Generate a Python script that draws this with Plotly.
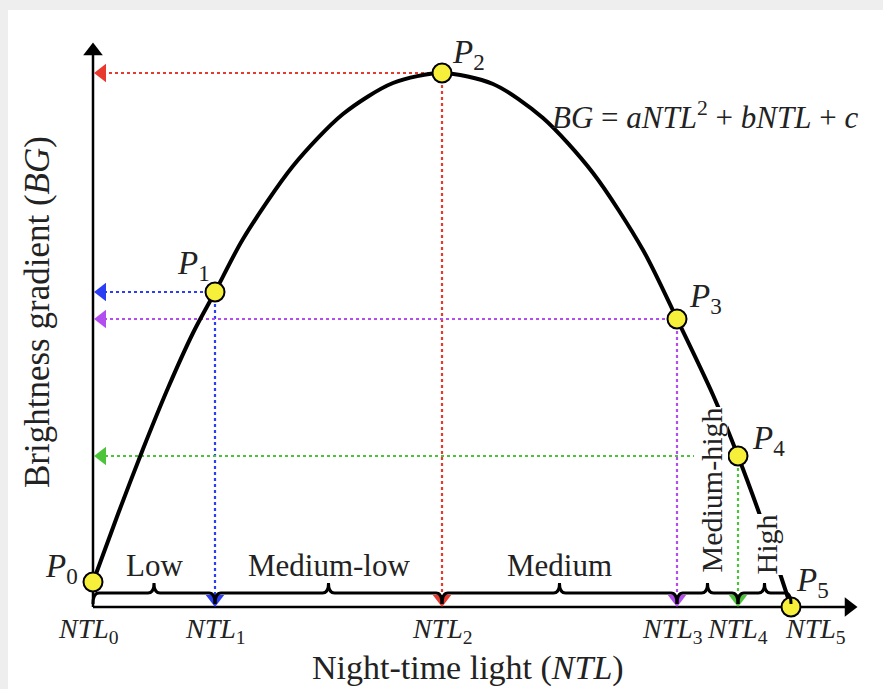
import plotly.graph_objects as go

# ---------------- data (chart units: NTL on x, BG on y) ----------------
point_names = ["P0", "P1", "P2", "P3", "P4", "P5"]
ntl_pts = [0, 122, 349, 584, 645, 698]
bg_pts = [25, 315, 534, 288, 151, 0]

curve_ntl = [0, 25, 50, 75, 100, 122, 150, 200, 250, 300, 349,
             400, 450, 500, 550, 584, 620, 645, 675, 698]
curve_bg = [25, 93, 158, 219, 274, 315, 368, 441, 493, 524, 534,
            523, 489, 434, 357, 288, 212, 151, 69, 0]

level_names = ["Low", "Medium-low", "Medium", "Medium-high", "High"]
tick_labels = ["NTL0", "NTL1", "NTL2", "NTL3", "NTL4", "NTL5"]

# projection colours for P1..P4
proj_colors = ["#2b3df5", "#e8392f", "#b24ef0", "#4cc43a"]

SERIF = "Liberation Serif"
TXT = "#222222"

fig = go.Figure()

# background card
fig.add_shape(type="rect", xref="paper", yref="paper", x0=8 / 883, x1=1, y0=0,
              y1=1 - 10 / 689, fillcolor="white", line_width=0, layer="below")

X_MAX = 764
Y_MAX = 564

# axes
fig.add_trace(go.Scatter(x=[0, X_MAX - 8], y=[0, 0], mode="lines",
                         line=dict(color="black", width=2.5), hoverinfo="skip"))
fig.add_trace(go.Scatter(x=[0, 0], y=[0, Y_MAX - 8], mode="lines",
                         line=dict(color="black", width=2.5), hoverinfo="skip"))
fig.add_trace(go.Scatter(x=[X_MAX - 8], y=[0], mode="markers",
                         marker=dict(symbol="triangle-right", size=17, color="black"),
                         hoverinfo="skip"))
fig.add_trace(go.Scatter(x=[0], y=[Y_MAX - 8], mode="markers",
                         marker=dict(symbol="triangle-up", size=17, color="black"),
                         hoverinfo="skip"))

# braces along x axis
brace_base, brace_line, brace_top, r = 3, 14, 24, 6
bounds = list(ntl_pts)
for i in range(5):
    x1, x2 = bounds[i], bounds[i + 1]
    xm = (x1 + x2) / 2
    path = (f"M {x1},{brace_base} Q {x1},{brace_line} {x1 + r},{brace_line} "
            f"L {xm - r},{brace_line} Q {xm},{brace_line} {xm},{brace_top} "
            f"Q {xm},{brace_line} {xm + r},{brace_line} "
            f"L {x2 - r},{brace_line} Q {x2},{brace_line} {x2},{brace_base}")
    fig.add_shape(type="path", path=path, xref="x", yref="y",
                  line=dict(color="black", width=3))

# dotted projections with arrowheads
for k in range(1, 5):
    c = proj_colors[k - 1]
    px, py = ntl_pts[k], bg_pts[k]
    fig.add_trace(go.Scatter(x=[px, 10], y=[py, py], mode="lines",
                             line=dict(color=c, width=2.2, dash="dot"), hoverinfo="skip"))
    fig.add_trace(go.Scatter(x=[px, px], y=[py, 10], mode="lines",
                             line=dict(color=c, width=2.2, dash="dot"), hoverinfo="skip"))
    fig.add_trace(go.Scatter(x=[9], y=[py], mode="markers",
                             marker=dict(symbol="triangle-left", size=16, color=c),
                             hoverinfo="skip"))
    fig.add_trace(go.Scatter(x=[px], y=[8], mode="markers",
                             marker=dict(symbol="triangle-down", size=16, color=c),
                             hoverinfo="skip"))

# category labels
for i, name in enumerate(level_names[:3]):
    xm = (bounds[i] + bounds[i + 1]) / 2
    fig.add_annotation(x=xm, y=42, text=name, showarrow=False,
                       font=dict(family=SERIF, size=31, color=TXT))

# curve
fig.add_trace(go.Scatter(x=curve_ntl, y=curve_bg, mode="lines",
                         line=dict(color="black", width=4, shape="spline", smoothing=0.8),
                         hoverinfo="skip"))

# rotated labels (white background hides the curve)
fig.add_annotation(x=(bounds[3] + bounds[4]) / 2 + 3, y=117, text=level_names[3],
                   showarrow=False, textangle=-90, bgcolor="white", borderpad=0,
                   font=dict(family=SERIF, size=30, color=TXT))
fig.add_annotation(x=(bounds[4] + bounds[5]) / 2 + 1, y=62, text=level_names[4],
                   showarrow=False, textangle=-90, bgcolor="white", borderpad=0,
                   font=dict(family=SERIF, size=30, color=TXT))

# points
fig.add_trace(go.Scatter(x=ntl_pts, y=bg_pts, mode="markers",
                         marker=dict(size=19, color="#f7f03a",
                                     line=dict(color="black", width=2)),
                         hoverinfo="skip"))

# point labels
p_off = [(-32, 14), (-22, 27), (26, 19), (28, 21), (30, 16), (21, 25)]
for i, name in enumerate(point_names):
    txt = f"<i>{name[0]}</i><sub>{name[1:]}</sub>"
    fig.add_annotation(x=ntl_pts[i] + p_off[i][0], y=bg_pts[i] + p_off[i][1], text=txt,
                       showarrow=False, font=dict(family=SERIF, size=33, color=TXT))

# NTL tick labels
t_off = [-5, 0, 0, -5, -1, 24]
for i, lab in enumerate(tick_labels):
    txt = f"<i>{lab[:3]}</i><sub>{lab[3:]}</sub>"
    fig.add_annotation(x=ntl_pts[i] + t_off[i], y=-23, text=txt, showarrow=False,
                       font=dict(family=SERIF, size=28, color=TXT))

# equation
fig.add_annotation(x=612, y=492,
                   text="<i>BG</i> = <i>aNTL</i><sup>2</sup> + <i>bNTL</i> + <i>c</i>",
                   showarrow=False, font=dict(family=SERIF, size=31, color=TXT))

# axis titles
fig.add_annotation(x=375, y=-61, text="Night-time light (<i>NTL</i>)", showarrow=False,
                   font=dict(family=SERIF, size=34, color=TXT))
fig.add_annotation(x=-56, y=295, text="Brightness gradient (<i>BG</i>)", showarrow=False,
                   textangle=-90, font=dict(family=SERIF, size=35, color=TXT))

fig.update_layout(
    width=883, height=689,
    margin=dict(l=0, r=0, t=0, b=0),
    paper_bgcolor="#eeeeee", plot_bgcolor="rgba(0,0,0,0)",
    showlegend=False,
    xaxis=dict(range=[-93, 790], visible=False, fixedrange=True),
    yaxis=dict(range=[-82, 607], visible=False, fixedrange=True),
)

fig.write_html("out.html", config={"displayModeBar": False},
               post_script="document.body.style.margin='0';")
